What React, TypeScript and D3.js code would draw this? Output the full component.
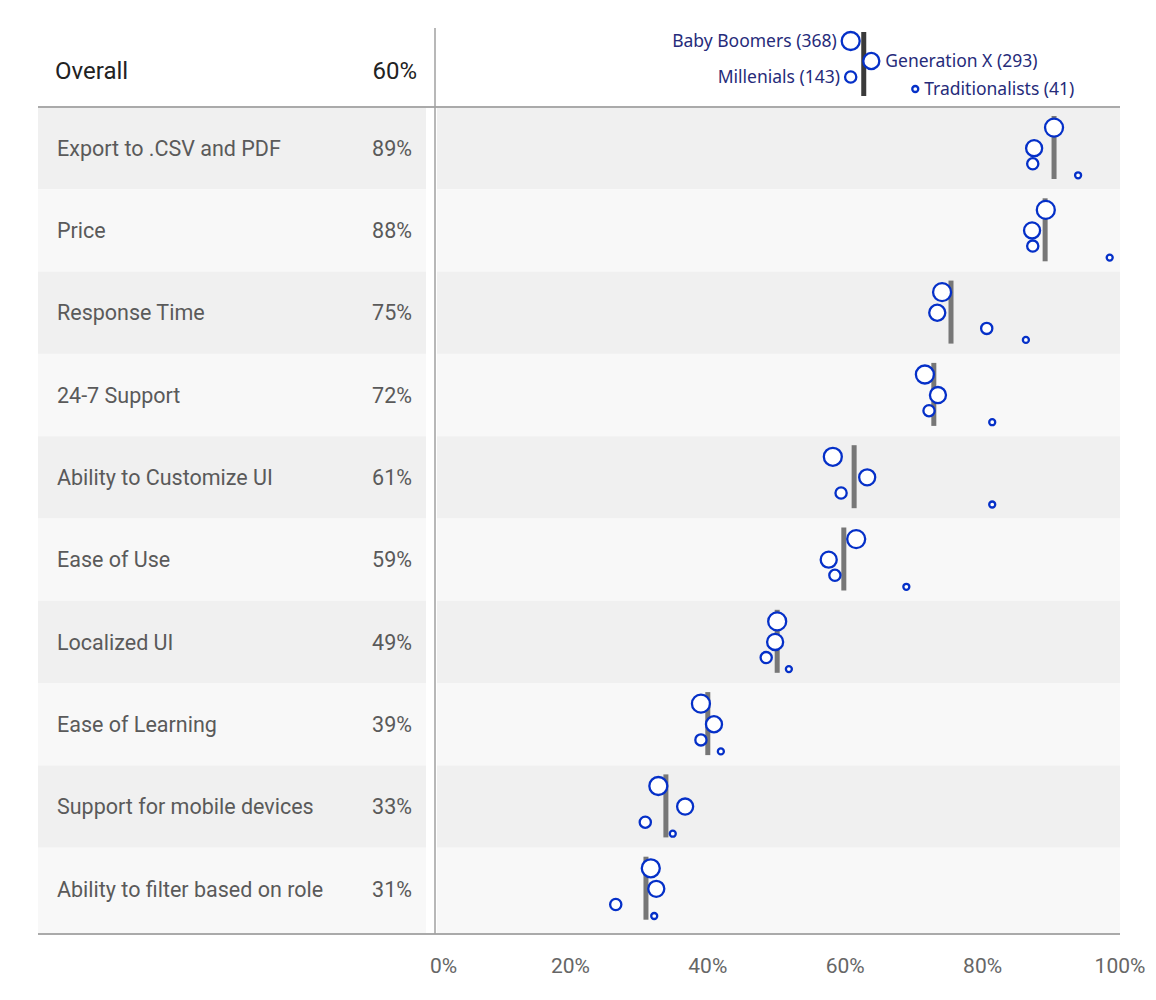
import React, { useLayoutEffect } from "react";
import * as d3 from "d3";

const categories = [
  "Export to .CSV and PDF",
  "Price",
  "Response Time",
  "24-7 Support",
  "Ability to Customize UI",
  "Ease of Use",
  "Localized UI",
  "Ease of Learning",
  "Support for mobile devices",
  "Ability to filter based on role",
];
const pctLabels = ["89%", "88%", "75%", "72%", "61%", "59%", "49%", "39%", "33%", "31%"];
const barValues = [90.4, 89.1, 75.4, 72.9, 61.3, 59.8, 50.1, 40.0, 33.9, 31.0];
const boomers = [90.4, 89.2, 74.1, 71.6, 58.2, 61.6, 50.1, 39.0, 32.8, 31.7];
const genX = [87.5, 87.2, 73.4, 73.5, 63.2, 57.6, 49.8, 40.9, 36.7, 32.5];
const millenials = [87.3, 87.3, 80.6, 72.2, 59.4, 58.5, 48.5, 39.0, 30.9, 26.6];
const traditionalists = [93.9, 98.5, 86.3, 81.4, 81.4, 68.9, 51.8, 41.9, 34.9, 32.2];

const groups = ["Baby Boomers", "Generation X", "Millenials", "Traditionalists"];
const groupCounts = [368, 293, 143, 41];
const overallLabel = "Overall";
const overallPct = "60%";
const overallBar = 62.7;
const overallGroupValues = [60.8, 63.8, 60.8, 70.2];

const ticks = [0, 20, 40, 60, 80, 100];

export default function App() {
  useLayoutEffect(() => {
    document.body.style.margin = "0";
  }, []);

  const W = 1156;
  const H = 1000;
  const x = d3.scaleLinear().domain([0, 100]).range([433, 1120]);
  const y = d3.scaleBand<string>().domain(categories).range([107, 930]);
  const r = d3.scaleSqrt().domain([0, 368]).range([0, 9]);
  const bw = y.bandwidth();
  const offsets = [0.25, 0.5, 0.69, 0.83];
  const series = [boomers, genX, millenials, traditionalists];

  const rowFont = "Roboto, 'Noto Sans', sans-serif";
  const legFont = "'Segoe UI', 'Noto Sans', 'Open Sans', sans-serif";
  const navy = "#262b7a";
  const blue = "#0530c8";

  const headerY = [41, 61, 77, 89];

  return (
    <svg width={W} height={H} style={{ display: "block", background: "#fff" }}>
      {categories.map((c, i) => {
        const top = y(c)!;
        const h = i === categories.length - 1 ? 934 - top : bw;
        const fill = i % 2 === 0 ? "#f0f0f0" : "#f8f8f8";
        return (
          <g key={"bg" + i}>
            <rect x={38} y={top} width={388} height={h} fill={fill} />
            <rect x={437} y={top} width={1120 - 437} height={h} fill={fill} />
          </g>
        );
      })}
      <line x1={38} x2={1120} y1={107} y2={107} stroke="#aaaaaa" strokeWidth={2} />
      <line x1={38} x2={1120} y1={934} y2={934} stroke="#aaaaaa" strokeWidth={2} />
      <line x1={435} x2={435} y1={28} y2={934} stroke="#a0a0a0" strokeWidth={1.5} />

      <text x={55} y={70} dy="0.36em" fontFamily={rowFont} fontSize={24} fill="#222">
        {overallLabel}
      </text>
      <text x={417} y={70} dy="0.36em" textAnchor="end" fontFamily={rowFont} fontSize={24} fill="#222">
        {overallPct}
      </text>
      <rect x={x(overallBar) - 2.5} y={32} width={5} height={64} fill="#3a3a3a" />
      {groups.map((g, k) => {
        const cx = x(overallGroupValues[k]);
        const cy = headerY[k];
        const rr = r(groupCounts[k]);
        const leftSide = k === 0 || k === 2;
        return (
          <g key={"h" + k}>
            <circle cx={cx} cy={cy} r={rr} fill="#fff" stroke={blue} strokeWidth={2.3} />
            <text
              x={leftSide ? cx - rr - 5 : cx + rr + 6}
              y={cy}
              dy="0.35em"
              textAnchor={leftSide ? "end" : "start"}
              fontFamily={legFont}
              fontSize={17.5}
              fill={navy}
            >
              {`${g} (${groupCounts[k]})`}
            </text>
          </g>
        );
      })}

      {categories.map((c, i) => {
        const top = y(c)!;
        const mid = top + bw / 2;
        return (
          <g key={"row" + i}>
            <text x={57} y={mid} dy="0.36em" fontFamily={rowFont} fontSize={21.5} fill="#5a5a5a">
              {c}
            </text>
            <text x={412} y={mid} dy="0.36em" textAnchor="end" fontFamily={rowFont} fontSize={21.5} fill="#5a5a5a">
              {pctLabels[i]}
            </text>
            <rect x={x(barValues[i]) - 2.5} y={top + 9} width={5} height={63} fill="#777777" />
            {series.map((s, k) => (
              <circle
                key={k}
                cx={x(s[i])}
                cy={top + bw * offsets[k]}
                r={r(groupCounts[k])}
                fill="#fff"
                stroke={blue}
                strokeWidth={2.3}
              />
            ))}
          </g>
        );
      })}

      {ticks.map((t, i) => (
        <text
          key={"t" + t}
          x={i === 0 ? x(t) - 3 : x(t)}
          y={965}
          dy="0.36em"
          textAnchor={i === 0 ? "start" : "middle"}
          fontFamily={rowFont}
          fontSize={21}
          fill="#666"
        >
          {`${t}%`}
        </text>
      ))}
    </svg>
  );
}
